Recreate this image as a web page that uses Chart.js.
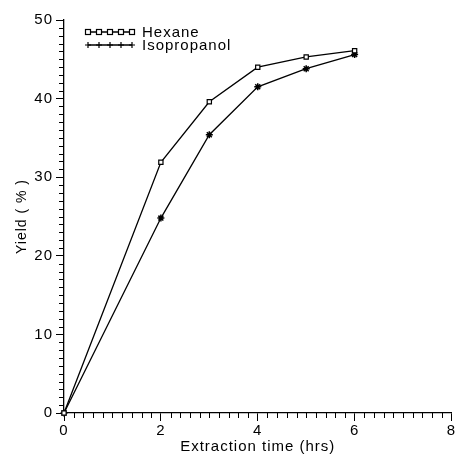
<!DOCTYPE html>
<html lang="en">
<head>
    <meta charset="UTF-8">
    <title>Yield vs extraction time</title>
    <style>
        body {
            margin: 0;
            background: white;
        }
        #wrap {
            width: 457px;
            height: 456px;
        }
    </style>
</head>
<body>
    <div id="wrap"><canvas id="chart" width="457" height="456"></canvas></div>

    <script src="https://cdn.jsdelivr.net/npm/chart.js"></script>
    <script>
        // data
        const hours = [0, 2, 3, 4, 5, 6];
        const hexaneYield = [0, 31.9, 39.6, 44.0, 45.3, 46.1];
        const isopropanolYield = [0, 24.8, 35.4, 41.5, 43.8, 45.6];
        const seriesNames = ['Hexane', 'Isopropanol'];
        const xTicks = [0, 2, 4, 6, 8];
        const yTicks = [0, 10, 20, 30, 40, 50];

        const FONT = 'Liberation Sans, Arial, sans-serif';

        function toPoints(xs, ys) {
            return xs.map((x, i) => ({ x: x, y: ys[i] }));
        }

        // wide lettering like the old plotter font
        const spacing = {
            id: 'spacing',
            beforeDraw(chart) {
                chart.ctx.letterSpacing = '1px';
            }
        };

        // minor ticks + a hand-made legend (line with 5 markers like the original)
        const extras = {
            id: 'extras',
            afterDraw(chart) {
                const ctx = chart.ctx;
                const xs = chart.scales.x, ys = chart.scales.y;
                ctx.save();
                ctx.strokeStyle = '#000';
                ctx.lineWidth = 1;
                ctx.beginPath();
                for (let v = 0; v <= 50; v += 1) {
                    if (v % 10 === 0) continue;
                    const py = Math.round(ys.getPixelForValue(v)) + 0.5;
                    ctx.moveTo(xs.left - 5, py);
                    ctx.lineTo(xs.left, py);
                }
                for (let i = 0; i <= 40; i++) {
                    if (i % 10 === 0) continue;
                    const px = Math.round(xs.getPixelForValue(i * 0.2)) + 0.5;
                    ctx.moveTo(px, ys.bottom);
                    ctx.lineTo(px, ys.bottom + 5);
                }
                ctx.stroke();

                // legend
                const lx0 = chart.chartArea.left + 24, lx1 = lx0 + 44;
                const rows = [chart.chartArea.top + 12, chart.chartArea.top + 25];
                ctx.font = '15px ' + FONT;
                ctx.letterSpacing = '1px';
                ctx.fillStyle = '#000';
                ctx.textBaseline = 'middle';
                rows.forEach((ry, k) => {
                    ctx.beginPath();
                    ctx.lineWidth = 1.3;
                    ctx.moveTo(lx0, ry);
                    ctx.lineTo(lx1, ry);
                    ctx.stroke();
                    for (let j = 0; j < 5; j++) {
                        const mx = lx0 + j * 11;
                        ctx.lineWidth = 1.2;
                        if (k === 0) {
                            ctx.fillStyle = '#fff';
                            ctx.fillRect(mx - 2.5, ry - 2.5, 5, 5);
                            ctx.strokeRect(mx - 2.5, ry - 2.5, 5, 5);
                        } else {
                            ctx.beginPath();
                            ctx.moveTo(mx - 3, ry); ctx.lineTo(mx + 3, ry);
                            ctx.moveTo(mx, ry - 3); ctx.lineTo(mx, ry + 3);
                            ctx.stroke();
                        }
                    }
                    ctx.fillStyle = '#000';
                    ctx.fillText(seriesNames[k], lx1 + 10, ry + 1);
                });
                ctx.restore();
            }
        };

        new Chart(document.getElementById('chart'), {
            type: 'scatter',
            data: {
                datasets: [{
                    label: seriesNames[0],
                    data: toPoints(hours, hexaneYield),
                    showLine: true,
                    borderColor: '#000',
                    borderWidth: 1.3,
                    pointStyle: 'rect',
                    pointRadius: 3,
                    pointBackgroundColor: '#fff',
                    pointBorderColor: '#000',
                    pointBorderWidth: 1.2
                }, {
                    label: seriesNames[1],
                    data: toPoints(hours, isopropanolYield),
                    showLine: true,
                    borderColor: '#000',
                    borderWidth: 1.3,
                    pointStyle: 'star',
                    pointRadius: 3.5,
                    pointBackgroundColor: '#000',
                    pointBorderColor: '#000',
                    pointBorderWidth: 1.5
                }]
            },
            options: {
                responsive: false,
                animation: false,
                clip: false,
                layout: { padding: { top: 20, right: 3, left: 0, bottom: 0 } },
                plugins: {
                    legend: { display: false },
                    tooltip: { enabled: false }
                },
                scales: {
                    x: {
                        type: 'linear',
                        min: 0,
                        max: 8,
                        afterBuildTicks: (s) => { s.ticks = xTicks.map(v => ({ value: v })); },
                        afterFit: (s) => { s.height = 43; },
                        border: { display: true, color: '#000', width: 1.3 },
                        grid: { drawOnChartArea: false, tickLength: 8, color: '#000', tickWidth: 1 },
                        ticks: { color: '#000', padding: 1, font: { family: FONT, size: 15 } },
                        title: {
                            display: true,
                            text: 'Extraction time (hrs)',
                            color: '#000',
                            padding: { top: 2, bottom: 0 },
                            font: { family: FONT, size: 15 }
                        }
                    },
                    y: {
                        min: 0,
                        max: 50,
                        afterBuildTicks: (s) => { s.ticks = yTicks.map(v => ({ value: v })); },
                        afterFit: (s) => { s.width = 64; },
                        border: { display: true, color: '#000', width: 1.3 },
                        grid: { drawOnChartArea: false, tickLength: 8, color: '#000', tickWidth: 1 },
                        ticks: { color: '#000', padding: 3, font: { family: FONT, size: 15 } },
                        title: {
                            display: true,
                            text: 'Yield ( % )',
                            color: '#000',
                            padding: { top: 14, bottom: 10 },
                            font: { family: FONT, size: 14 }
                        }
                    }
                }
            },
            plugins: [spacing, extras]
        });
    </script>
</body>
</html>
